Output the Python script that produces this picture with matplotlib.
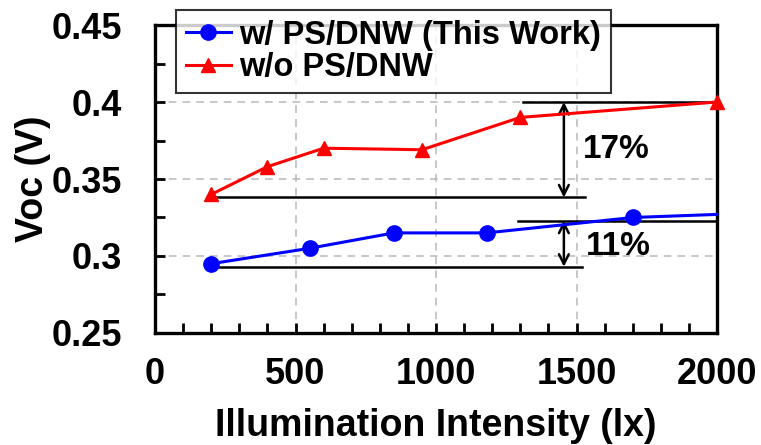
import matplotlib
matplotlib.use("Agg")
import matplotlib.pyplot as plt
from matplotlib.ticker import MultipleLocator

plt.rcParams['font.family'] = ['Liberation Sans', 'DejaVu Sans']
plt.rcParams['font.weight'] = 'bold'

# Measured open-circuit voltage vs. illumination
with_x = [200, 550, 850, 1180, 1700, 2000]
with_y = [0.295, 0.305, 0.315, 0.315, 0.325, 0.327]
without_x = [200, 400, 600, 950, 1300, 2000]
without_y = [0.340, 0.358, 0.370, 0.369, 0.390, 0.400]

series_labels = ["w/ PS/DNW (This Work)", "w/o PS/DNW"]

# Reference levels for the improvement brackets
red_top_y, red_top_x = 0.400, [1310, 2000]
red_bot_y, red_bot_x = 0.338, [200, 1530]
blue_top_y, blue_top_x = 0.323, [1290, 2000]
blue_bot_y, blue_bot_x = 0.293, [200, 1520]
bracket_x = 1455
pct_labels = ["17%", "11%"]

x_ticks = [0, 500, 1000, 1500, 2000]
y_ticks = [0.25, 0.3, 0.35, 0.4, 0.45]
y_tick_labels = ["0.25", "0.3", "0.35", "0.4", "0.45"]

fig = plt.figure(figsize=(7.61, 4.45), dpi=100)
ax = fig.add_axes([0.2037, 0.2517, 0.7385, 0.6921])

# Grid
for gx in [500, 1000, 1500]:
    ax.axvline(gx, color='#b8b8b8', lw=1.1, ls=(0, (5, 4)), zorder=1)
for gy in [0.3, 0.35, 0.4]:
    ax.axhline(gy, color='#b8b8b8', lw=1.1, ls=(0, (5, 4)), zorder=1)

# Bracket reference lines
ax.plot(red_top_x, [red_top_y] * 2, color='black', lw=1.8, zorder=2, clip_on=False)
ax.plot(red_bot_x, [red_bot_y] * 2, color='black', lw=1.8, zorder=2)
ax.plot(blue_top_x, [blue_top_y] * 2, color='black', lw=1.8, zorder=2, clip_on=False)
ax.plot(blue_bot_x, [blue_bot_y] * 2, color='black', lw=1.8, zorder=2)

arrow_kw = dict(arrowstyle='<->,head_length=0.7,head_width=0.35', color='black', lw=1.8,
                shrinkA=0, shrinkB=0)
ax.annotate('', xy=(bracket_x, red_bot_y), xytext=(bracket_x, red_top_y), arrowprops=arrow_kw, zorder=3)
ax.annotate('', xy=(bracket_x, blue_bot_y), xytext=(bracket_x, blue_top_y), arrowprops=arrow_kw, zorder=3)
ax.text(1640, 0.369, pct_labels[0], fontsize=24, fontweight='bold', ha='center', va='center')
ax.text(1648, 0.306, pct_labels[1], fontsize=24, fontweight='bold', ha='center', va='center')

# Data series
ax.plot(with_x, with_y, color='#0000ff', lw=2.2, marker='o', markersize=11,
        markevery=list(range(len(with_x) - 1)), label=series_labels[0], zorder=4, clip_on=False)
ax.plot(without_x, without_y, color='#ff0000', lw=2.2, marker='^', markersize=10,
        label=series_labels[1], zorder=4, clip_on=False)

ax.set_xlim(0, 2000)
ax.set_ylim(0.25, 0.45)
ax.xaxis.set_major_locator(plt.FixedLocator(x_ticks))
ax.xaxis.set_minor_locator(MultipleLocator(100))
ax.yaxis.set_major_locator(plt.FixedLocator(y_ticks))
ax.set_yticklabels(y_tick_labels)
ax.yaxis.set_minor_locator(MultipleLocator(0.025))

ax.tick_params(axis='both', which='both', direction='in', width=2.0, top=False, right=False)
ax.tick_params(axis='x', which='both', length=7, labelsize=26, pad=17)
ax.tick_params(axis='y', which='both', length=7, labelsize=26, pad=24)
for lab in ax.get_xticklabels() + ax.get_yticklabels():
    lab.set_fontweight('bold')

for sp in ax.spines.values():
    sp.set_linewidth(2.4)
    sp.set_color('black')

ax.set_xlabel("Illumination Intensity (lx)", fontsize=27, fontweight='bold')
ax.set_ylabel("Voc (V)", fontsize=27, fontweight='bold')
ax.xaxis.set_label_coords(0.5, -0.245)
ax.yaxis.set_label_coords(-0.185, 0.5)

leg = ax.legend(loc='upper left', bbox_to_anchor=(0.037, 1.049), borderaxespad=0,
                frameon=True, fancybox=False, handlelength=1.4,
                handletextpad=0.25, borderpad=0.3, labelspacing=0.05,
                prop={'weight': 'bold', 'size': 23.5})
leg.get_frame().set_edgecolor('black')
leg.get_frame().set_linewidth(1.5)
leg.set_zorder(10)

fig.savefig("out.png", dpi=100)
